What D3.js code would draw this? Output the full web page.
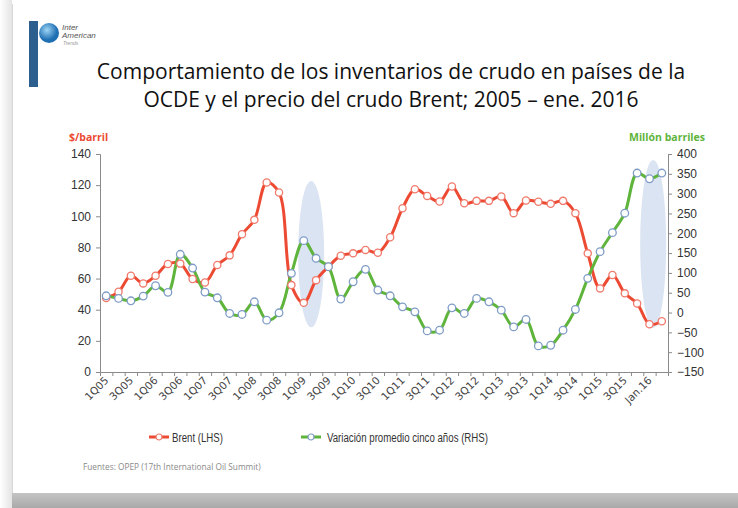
<!DOCTYPE html>
<html>
<head>
<meta charset="utf-8">
<script src="https://cdn.jsdelivr.net/npm/d3@7"></script>
<style>
  body { margin: 0; background: #fff; }
  svg { display: block; }
</style>
</head>
<body>
<div id="chart"></div>
<script>
// periodos (ultimo sin etiqueta visible)
var periodos = ['1Q05','2Q05','3Q05','4Q05','1Q06','2Q06','3Q06','4Q06','1Q07','2Q07','3Q07','4Q07',
  '1Q08','2Q08','3Q08','4Q08','1Q09','2Q09','3Q09','4Q09','1Q10','2Q10','3Q10','4Q10',
  '1Q11','2Q11','3Q11','4Q11','1Q12','2Q12','3Q12','4Q12','1Q13','2Q13','3Q13','4Q13',
  '1Q14','2Q14','3Q14','4Q14','1Q15','2Q15','3Q15','4Q15','Jan.16','Feb.16'];

// Brent, $/barril (LHS)
var brent = [47.6, 51.5, 61.8, 56.9, 61.8, 69.4, 69.6, 59.7, 57.5, 68.7, 74.9,
  88.5, 97.7, 121.7, 115.3, 55.8, 44.4, 59, 67.6, 74.7, 76.2, 78.4, 76.6, 86.5, 105.2, 117.4, 113.1,
  109.5, 119.1, 108.4, 109.9, 109.9, 112.7, 102, 110.1, 109.3, 108, 109.9, 102, 76.2, 53.7, 62.3,
  50.5, 44, 30.7, 32.6];

// variacion vs promedio cinco anios, millon barriles (RHS)
var inventarios = [42.3, 35.7, 29.6, 41.5, 67.6, 50.9, 147, 112.3, 51.6, 37.2, -2.3,
  -4.8, 27.1, -19.2, -0.7, 98.9, 181.4, 136.9, 115.6, 33.9, 77.7, 109, 56.7, 42.3, 14.4, 1.8, -46.3,
  -44.5, 11.9, -2.3, 35.7, 27.1, 6, -36.2, -17.4, -84.2, -82.5, -44.5, 7.8, 86.3, 153.6, 201.6,
  250.7, 351.9, 337.5, 351.9];

var ticksIzq = [0, 20, 40, 60, 80, 100, 120, 140];
var ticksDer = [-150, -100, -50, 0, 50, 100, 150, 200, 250, 300, 350, 400];

// zonas resaltadas (posicion en periodos, extremos en escala RHS)
var zonas = [{centro: 16.6, top: 332, bottom: -37},
             {centro: 44.3, top: 385, bottom: -39}];

var W = 738, H = 508;
var rojo = '#ec4a32', verde = '#5fb43c';

var svg = d3.select('#chart').append('svg')
  .attr('width', W).attr('height', H);

// fondo tipo diapositiva
var defs = svg.append('defs');
var grad = defs.append('linearGradient').attr('id', 'sombra')
  .attr('x1', 0).attr('y1', 0).attr('x2', 0).attr('y2', 1);
grad.append('stop').attr('offset', 0).attr('stop-color', '#c4c4c4');
grad.append('stop').attr('offset', 1).attr('stop-color', '#a9a9a9');
var gradL = defs.append('linearGradient').attr('id', 'sombraL')
  .attr('x1', 0).attr('y1', 0).attr('x2', 1).attr('y2', 0);
gradL.append('stop').attr('offset', 0).attr('stop-color', '#ffffff');
gradL.append('stop').attr('offset', 1).attr('stop-color', '#e4e4e4');

svg.append('rect').attr('x', 0).attr('y', 0).attr('width', 12).attr('height', H).attr('fill', 'url(#sombraL)');
svg.append('rect').attr('x', 12).attr('y', 493).attr('width', W - 12).attr('height', 15).attr('fill', 'url(#sombra)');
svg.append('line').attr('x1', 12.5).attr('x2', 12.5).attr('y1', 4).attr('y2', 493)
  .attr('stroke', '#d8d8d8');

// logo
var logo = svg.append('g');
logo.append('rect').attr('x', 29).attr('y', 21).attr('width', 9).attr('height', 66)
  .attr('fill', '#2c5f8e');
var gGlobo = defs.append('radialGradient').attr('id', 'globo').attr('cx', 0.4).attr('cy', 0.35);
gGlobo.append('stop').attr('offset', 0).attr('stop-color', '#9fd6f5');
gGlobo.append('stop').attr('offset', 1).attr('stop-color', '#1f6fb3');
logo.append('circle').attr('cx', 49).attr('cy', 33).attr('r', 10).attr('fill', 'url(#globo)');
logo.append('text').attr('x', 62).attr('y', 30).text('Inter')
  .style('font', 'italic 8px "Liberation Sans"').attr('fill', '#555');
logo.append('text').attr('x', 62).attr('y', 38).text('American')
  .style('font', 'italic 8px "Liberation Sans"').attr('fill', '#555');
logo.append('text').attr('x', 63).attr('y', 45).text('Trends')
  .style('font', 'italic 5px "Liberation Sans"').attr('fill', '#999');

// titulo
var titulo = svg.append('g').style('font-family', '"Open Sans", sans-serif')
  .style('font-size', '21px').attr('fill', '#111').attr('text-anchor', 'middle');
titulo.append('text').attr('x', 391).attr('y', 79)
  .text('Comportamiento de los inventarios de crudo en países de la');
titulo.append('text').attr('x', 391).attr('y', 107)
  .text('OCDE y el precio del crudo Brent; 2005 – ene. 2016');

// escalas
var x = d3.scaleLinear().domain([-0.5, periodos.length - 0.5]).range([100, 668]);
var yL = d3.scaleLinear().domain([0, 140]).range([372, 154]);
var yR = d3.scaleLinear().domain([-150, 400]).range([372, 154]);

// elipses
svg.selectAll('.zona').data(zonas).enter().append('ellipse')
  .attr('class', 'zona')
  .attr('cx', function(d){ return x(d.centro); })
  .attr('cy', function(d){ return (yR(d.top) + yR(d.bottom)) / 2; })
  .attr('rx', 13)
  .attr('ry', function(d){ return (yR(d.bottom) - yR(d.top)) / 2; })
  .attr('fill', '#d5dff0').attr('opacity', 0.85);

// ejes
var axL = svg.append('g').attr('transform', 'translate(100,0)')
  .call(d3.axisLeft(yL).tickValues(ticksIzq).tickSize(4).tickPadding(5));
var axR = svg.append('g').attr('transform', 'translate(668,0)')
  .call(d3.axisRight(yR).tickValues(ticksDer).tickSize(4).tickPadding(5));
var bordes = d3.range(periodos.length + 1).map(function(i){ return i - 0.5; });
var axB = svg.append('g').attr('transform', 'translate(0,372)')
  .call(d3.axisBottom(x).tickValues(bordes).tickSize(4).tickFormat(''));

[axL, axR, axB].forEach(function(a){
  a.select('.domain').attr('stroke', '#8a8a8a');
  a.selectAll('.tick line').attr('stroke', '#8a8a8a');
  a.selectAll('.tick text').attr('fill', '#333')
    .style('font-family', '"Liberation Sans", Arial, sans-serif').style('font-size', '12px');
});

// etiquetas de categoria, cada dos
svg.append('g').selectAll('text')
  .data(periodos.filter(function(d, i){ return i % 2 === 0; }))
  .enter().append('text')
  .attr('transform', function(d){
    var i = periodos.indexOf(d);
    return 'translate(' + (x(i) + 3) + ',381) rotate(-45)';
  })
  .attr('text-anchor', 'end')
  .attr('fill', '#444')
  .style('font-family', '"DejaVu Sans", sans-serif').style('font-size', '10.5px')
  .text(function(d){ return d; });

// titulos de eje
svg.append('text').attr('x', 69).attr('y', 141).text('$/barril')
  .attr('fill', rojo).style('font', 'bold 10.5px "Open Sans", sans-serif');
svg.append('text').attr('x', 705).attr('y', 141).attr('text-anchor', 'end').text('Millón barriles')
  .attr('fill', verde).style('font', 'bold 10.5px "Open Sans", sans-serif');

// series
var lineaL = d3.line().x(function(d, i){ return x(i); }).y(function(d){ return yL(d); })
  .curve(d3.curveCatmullRom.alpha(0.5));
var lineaR = d3.line().x(function(d, i){ return x(i); }).y(function(d){ return yR(d); })
  .curve(d3.curveCatmullRom.alpha(0.5));

svg.append('path').datum(brent).attr('d', lineaL)
  .attr('fill', 'none').attr('stroke', rojo).attr('stroke-width', 3);
svg.append('path').datum(inventarios).attr('d', lineaR)
  .attr('fill', 'none').attr('stroke', verde).attr('stroke-width', 3);

svg.append('g').selectAll('circle').data(brent).enter().append('circle')
  .attr('cx', function(d, i){ return x(i); }).attr('cy', function(d){ return yL(d); })
  .attr('r', 3.6).attr('fill', '#fff').attr('stroke', '#f07a6c').attr('stroke-width', 1.3);
svg.append('g').selectAll('circle').data(inventarios).enter().append('circle')
  .attr('cx', function(d, i){ return x(i); }).attr('cy', function(d){ return yR(d); })
  .attr('r', 3.8).attr('fill', '#fff').attr('stroke', '#7f9cc6').attr('stroke-width', 1.3);

// leyenda
var leyenda = [{t: 'Brent (LHS)', c: rojo, m: '#f07a6c', x: 149, w: 51},
               {t: 'Variación promedio cinco años (RHS)', c: verde, m: '#7f9cc6', x: 301, w: 161}];
var lg = svg.append('g').selectAll('g').data(leyenda).enter().append('g')
  .attr('transform', function(d){ return 'translate(' + d.x + ',437)'; });
lg.append('line').attr('x1', 0).attr('x2', 20).attr('stroke', function(d){ return d.c; })
  .attr('stroke-width', 3);
lg.append('circle').attr('cx', 10).attr('r', 3).attr('fill', '#fff')
  .attr('stroke', function(d){ return d.m; }).attr('stroke-width', 1.2);
lg.append('text').attr('x', function(d, i){ return i ? 26 : 23; }).attr('y', 4.5)
  .text(function(d){ return d.t; })
  .attr('textLength', function(d){ return d.w; })
  .attr('lengthAdjust', 'spacingAndGlyphs')
  .attr('fill', '#333')
  .style('font-family', '"Liberation Sans", sans-serif').style('font-size', '12px');

// fuente
svg.append('text').attr('x', 83).attr('y', 470)
  .text('Fuentes: OPEP (17th International Oil Summit)')
  .attr('fill', '#8a8a8a').style('font', '8.3px "Open Sans", sans-serif');
</script>
</body>
</html>
